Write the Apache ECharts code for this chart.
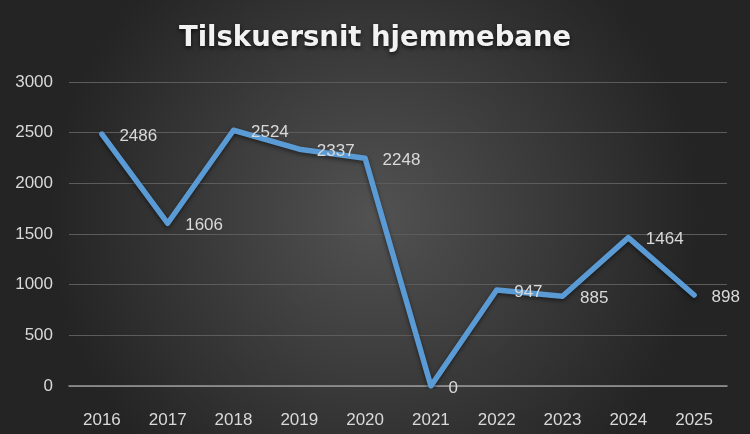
<!DOCTYPE html>
<html><head><meta charset="utf-8">
<script src="https://cdn.jsdelivr.net/npm/echarts@6/dist/echarts.min.js"></script>
<style>html,body{margin:0;padding:0;background:#333}#c{width:750px;height:434px}</style>
</head><body><div id="c"></div>
<script>
const titleText = 'Tilskuersnit hjemmebane';
const years = ['2016','2017','2018','2019','2020','2021','2022','2023','2024','2025'];
const attendance = [2486, 1606, 2524, 2337, 2248, 0, 947, 885, 1464, 898];
const yMin = 0, yMax = 3000, yStep = 500;

const chart = echarts.init(document.getElementById('c'), null, {renderer:'canvas'});
chart.setOption({
  animation: false,
  backgroundColor: {
    type: 'radial', x: 0.5, y: 0.5, r: 0.75,
    colorStops: [{offset: 0, color: '#525252'}, {offset: 1, color: '#242424'}]
  },
  title: {
    text: titleText, left: 'center', top: 20,
    textStyle: {
      fontFamily: 'DejaVu Sans', fontWeight: 'bold', fontSize: 27.5, color: '#f2f2f2',
      textShadowColor: 'rgba(0,0,0,0.7)', textShadowBlur: 4, textShadowOffsetY: 2
    }
  },
  grid: {left: 69, right: 23, top: 82, bottom: 48, containLabel: false},
  xAxis: {
    type: 'category', data: years, boundaryGap: true,
    axisLine: {show: true, lineStyle: {color: '#9a9a9a', width: 1.5}},
    axisTick: {show: false},
    axisLabel: {color: '#d9d9d9', fontSize: 17, fontFamily: 'Liberation Sans', margin: 26}
  },
  yAxis: {
    type: 'value', min: yMin, max: yMax, interval: yStep,
    axisLine: {show: false}, axisTick: {show: false},
    splitLine: {lineStyle: {color: '#5c5c5c', width: 1}},
    axisLabel: {color: '#d9d9d9', fontSize: 17, fontFamily: 'Liberation Sans', margin: 16,
      formatter: v => String(v)}
  },
  series: [{
    type: 'line', data: attendance,
    symbol: 'circle', symbolSize: 1, showSymbol: true,
    itemStyle: {color: '#5B9BD5'},
    lineStyle: {color: '#5B9BD5', width: 5.5, cap: 'round', join: 'round',
      shadowColor: 'rgba(0,0,0,0.5)', shadowBlur: 4, shadowOffsetY: 2},
    label: {show: true, position: 'right', distance: 17, offset: [0, 2],
      color: '#d9d9d9', fontSize: 17, fontFamily: 'Liberation Sans'}
  }]
});
</script></body></html>
